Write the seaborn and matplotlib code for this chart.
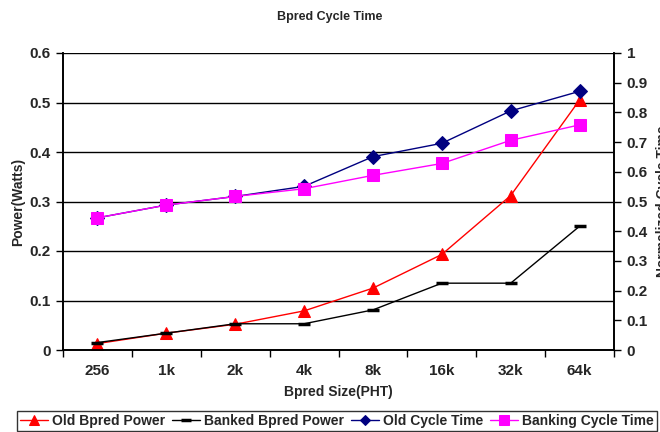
import matplotlib
matplotlib.use("Agg")
import matplotlib.pyplot as plt
import seaborn as sns
import pandas as pd
import numpy as np
from matplotlib.ticker import FixedLocator, FuncFormatter

sizes = ["256", "1k", "2k", "4k", "8k", "16k", "32k", "64k"]
old_power = [0.013, 0.034, 0.052, 0.079, 0.125, 0.193, 0.312, 0.505]
banked_power = [0.015, 0.034, 0.053, 0.053, 0.081, 0.135, 0.135, 0.250]
old_cycle = [0.445, 0.488, 0.517, 0.551, 0.651, 0.696, 0.805, 0.871]
bank_cycle = [0.445, 0.488, 0.517, 0.543, 0.588, 0.628, 0.706, 0.758]

sns.set_style("white")
plt.rcParams['font.family'] = ['Liberation Sans', 'DejaVu Sans']

fig = plt.figure(figsize=(6.6, 4.32), dpi=100)
ax = fig.add_axes([63/660, 1-350/432, (614-63)/660, (350-53)/432])
ax2 = ax.twinx()

xi = np.arange(len(sizes))
df = pd.DataFrame({"x": xi, "old_power": old_power, "banked_power": banked_power,
                   "old_cycle": old_cycle, "bank_cycle": bank_cycle})

sns.lineplot(data=df, x="x", y="old_power", ax=ax, color="#ff0000", lw=1,
             marker="^", markersize=9, markeredgecolor="#ff0000", label="Old Bpred Power", legend=False)
sns.lineplot(data=df, x="x", y="banked_power", ax=ax, color="black", lw=1,
             marker="_", markersize=9, markeredgewidth=2.5, markeredgecolor="black",
             label="Banked Bpred Power", legend=False)
sns.lineplot(data=df, x="x", y="old_cycle", ax=ax2, color="#000080", lw=1,
             marker="D", markersize=7, markeredgecolor="#000080", label="Old Cycle Time", legend=False)
sns.lineplot(data=df, x="x", y="bank_cycle", ax=ax2, color="#ff00ff", lw=1,
             marker="s", markersize=9, markeredgecolor="#ff00ff", label="Banking Cycle Time", legend=False)

ax.set_ylim(0, 0.6)
ax2.set_ylim(0, 1.0)
ax.set_xlim(-0.5, 7.5)
ax.set_yticks(np.arange(0, 0.61, 0.1))
ax.yaxis.set_major_formatter(FuncFormatter(lambda v, p: "0" if abs(v) < 1e-9 else f"{v:.1f}"))
ax2.set_yticks(np.arange(0, 1.01, 0.1))
ax2.yaxis.set_major_formatter(FuncFormatter(lambda v, p: "0" if abs(v) < 1e-9 else ("1" if abs(v-1) < 1e-9 else f"{v:.1f}")))

ax.set_xticks(xi)
ax.set_xticklabels(sizes)
ax.xaxis.set_minor_locator(FixedLocator(np.arange(-0.5, 7.6, 1)))
ax.tick_params(axis="x", which="major", length=0, pad=10)
ax.tick_params(axis="x", which="minor", length=5, width=1, color="black", direction="out", bottom=True)
ax.tick_params(axis="y", length=5, width=1, color="black", direction="out", left=True, pad=4)
ax2.tick_params(axis="y", length=5, width=1, color="black", direction="out", right=True, pad=4)

for a in (ax, ax2):
    for lab in a.get_xticklabels() + a.get_yticklabels():
        lab.set_fontsize(11)
        lab.set_fontweight("bold")

ax.yaxis.grid(True, color="black", lw=1)
ax.set_axisbelow(True)
for s in ["top"]:
    ax.spines[s].set_visible(False)
    ax2.spines[s].set_visible(False)
for a in (ax, ax2):
    for s in ["left", "right", "bottom"]:
        a.spines[s].set_color("black")
        a.spines[s].set_linewidth(1.2)

ax.set_xlabel("Bpred Size(PHT)", fontsize=10, fontweight="bold", labelpad=5)
ax.set_ylabel("Power(Watts)", fontsize=10, fontweight="bold", labelpad=3)
ax2.set_ylabel("Normalized Cycle Time", fontsize=10, fontweight="bold", labelpad=6)
fig.suptitle("Bpred Cycle Time", fontsize=9, fontweight="bold", y=0.975)

h1, l1 = ax.get_legend_handles_labels()
h2, l2 = ax2.get_legend_handles_labels()
leg = fig.legend(h1 + h2, l1 + l2, loc="center", bbox_to_anchor=(337/660, 1-421/432),
                 ncol=4, frameon=True, fancybox=False, edgecolor="black",
                 prop={"weight": "bold", "size": 10}, handlelength=2.0, handletextpad=0.3,
                 columnspacing=0.5, borderpad=0.25, markerscale=0.8)
leg.get_frame().set_linewidth(1)

fig.savefig("out.png", dpi=100)
